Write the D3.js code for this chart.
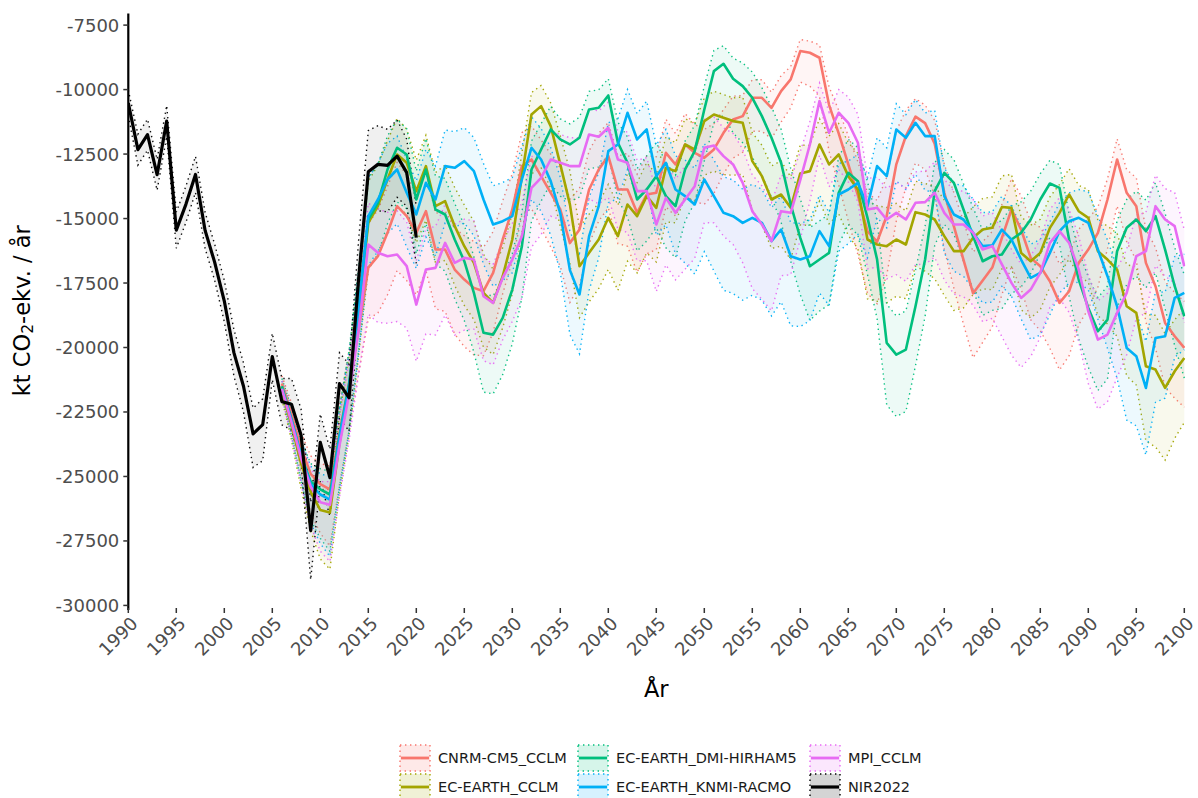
<!DOCTYPE html>
<html><head><meta charset="utf-8">
<script src="https://cdn.jsdelivr.net/npm/d3@7"></script>
<style>body{margin:0;background:#fff}svg{font-family:"DejaVu Sans",sans-serif}</style>
</head><body><svg id="c" width="1198" height="798"></svg>
<script>
// ---------- DATA ----------
const nirYears = d3.range(1990, 2021);
const modelYears = d3.range(2006, 2101);
const xTicks = d3.range(1990, 2101, 5);
const yTicks = [-30000,-27500,-25000,-22500,-20000,-17500,-15000,-12500,-10000,-7500];

const nirValues = [-10520,-12330,-11750,-13300,-11220,-15450,-14450,-13290,-15460,-16700,-18200,-20200,-21500,-23350,-22990,-20350,-22100,-22200,-23400,-27100,-23680,-25040,-21400,-21950,-17300,-13190,-12900,-12940,-12580,-13220,-15740];
const nirUp = [500,600,600,600,600,700,700,700,700,700,800,900,900,1000,1000,900,900,1000,1000,1100,1100,1100,1200,1300,1500,1600,1500,1400,1400,1300,1200];
const nirDn = [500,600,600,600,600,700,700,700,700,700,800,900,1000,1300,1400,900,900,1000,1100,1900,1500,1500,1300,1300,1400,1600,1800,1800,1600,1300,1000];

const cnrmValues = [-21400,-22600,-23900,-24900,-25300,-25500,-23300,-21400,-19300,
-16900,-16460,-15555,-14520,-14908,-15555,-14714,-16201,-16201,-16977,
-17365,-17688,-17818,-17106,-15813,-14650,-12968,-12710,-13356,-14003,
-14650,-15950,-15425,-13873,-13097,-12580,-13873,-13873,-14778,-14067,
-14002,-12451,-12903,-12128,-12451,-12645,-12322,-11675,-11158,-11029,
-10318,-10318,-10706,-10059,-9606,-8507,-8572,-8766,-10600,-11700,
-12900,-14100,-15500,-15900,-14900,-12900,-11800,-11050,-11300,-12100,
-14000,-15300,-16600,-17900,-17400,-16900,-15750,-14650,-15426,-16525,
-16848,-17430,-18270,-17818,-16719,-16202,-15555,-14262,-12710,-14003,
-14521,-16719,-17624,-19046,-19563,-20016];
const cnrmUp = [300,450,600,700,800,900,1100,1300,1500,
1700,1800,1800,1700,1600,1500,1500,1400,1500,1600,
1700,1800,1700,1600,1500,1400,1300,1300,1400,1500,
1600,1700,1600,1500,1400,1300,1300,1400,1500,1500,
1400,1300,1200,1200,1100,1100,1000,900,900,800,
700,700,600,600,500,450,450,500,700,900,
1100,1300,1500,1600,1500,1300,1000,700,700,900,
1100,1300,1500,1600,1500,1400,1300,1200,1300,1400,
1500,1500,1500,1400,1300,1200,1000,800,800,900,
1100,1300,1500,1600,1700,1800];
const cnrmDn = [300,600,1000,1500,1900,2200,2000,1800,1700,
2000,2200,2400,2500,2500,2400,2300,2300,2400,2500,
2600,2600,2500,2300,2100,2000,1900,1900,2000,2100,
2200,2300,2200,2100,2000,2000,2100,2200,2300,2300,
2200,2100,2000,2000,1900,1800,1700,1600,1500,1400,
1300,1300,1200,1200,1100,1200,1300,1500,1800,2000,
2200,2300,2400,2400,2300,2200,2000,1800,1800,2000,
2200,2400,2500,2500,2400,2300,2200,2200,2300,2400,
2500,2600,2600,2500,2400,2300,2100,1900,1800,1900,
2100,2300,2400,2500,2400,2300];

const cclmValues = [-21700,-23000,-24500,-25600,-26300,-26400,-23700,-21600,-18600,
-15167,-14520,-13486,-12516,-12839,-13938,-12968,-14520,-14326,-15296,
-16072,-16718,-17882,-18270,-17236,-15813,-13356,-10964,-10641,-11417,
-12900,-14450,-16847,-16330,-15813,-14972,-15684,-14455,-14908,-14132,
-14584,-13033,-13162,-12128,-12322,-11222,-10964,-11093,-11222,-11287,
-12774,-13356,-14261,-14067,-14584,-13250,-13162,-12128,-12903,-12516,
-13356,-13873,-15813,-16007,-16071,-15813,-16007,-14752,-14843,-15037,
-15683,-16265,-16265,-15748,-15425,-15360,-14550,-14585,-16331,-16654,
-16331,-15361,-14779,-14068,-14715,-14973,-16266,-16589,-16977,-18400,
-18658,-20727,-20856,-21567,-20921,-20404];
const cclmUp = [300,450,600,700,800,900,1100,1300,1500,
1600,1600,1500,1400,1300,1200,1200,1300,1400,1500,
1600,1600,1500,1300,1100,1000,900,850,800,900,
1100,1300,1500,1500,1400,1300,1200,1200,1300,1300,
1300,1200,1100,1000,1000,900,900,900,900,1000,
1100,1200,1300,1300,1200,1100,1000,1000,1100,1200,
1300,1400,1500,1500,1500,1400,1300,1200,1200,1300,
1400,1400,1300,1200,1200,1200,1200,1300,1400,1400,
1300,1200,1100,1000,1000,1100,1200,1300,1400,1600,
1800,2000,2100,2100,2000,1900];
const cclmDn = [300,600,1000,1500,1900,2200,2000,1800,1700,
1800,1900,2000,2000,2000,2000,2100,2200,2300,2300,
2300,2200,2100,2000,2000,2100,2200,2300,2400,2400,
2400,2300,2000,1900,1900,2000,2100,2200,2200,2200,
2100,2100,2000,2000,2000,2100,2200,2200,2100,2000,
1900,1900,1900,2000,2000,2000,2100,2200,2300,2300,
2300,2300,2300,2200,2200,2200,2100,2100,2200,2300,
2300,2300,2200,2200,2300,2400,2400,2300,2200,2200,
2200,2300,2400,2500,2500,2500,2500,2500,2600,2700,
2800,2900,3000,2800,2600,2500];

const dmiValues = [-21500,-22800,-24200,-25200,-25500,-25700,-23400,-21400,-18400,
-15037,-14391,-13098,-12257,-12516,-14262,-13098,-14650,-14843,-15813,
-16653,-17882,-19430,-19500,-18850,-17753,-16072,-13098,-12322,-11546,
-11934,-12128,-11869,-10770,-10706,-10227,-12063,-12839,-14261,-13873,
-13356,-14132,-14520,-13097,-12386,-10770,-9283,-8999,-9581,-9865,
-10318,-11029,-11869,-12839,-14455,-15750,-16849,-16590,-16331,-14004,
-13228,-13551,-14974,-16590,-19823,-20275,-20081,-18400,-16590,-13939,
-13228,-13616,-14651,-15685,-16655,-16461,-16396,-15814,-15555,-15038,
-14262,-13641,-13809,-15814,-17365,-18464,-19369,-18917,-16266,-15361,
-15038,-15490,-14909,-16202,-17624,-18788];
const dmiUp = [300,450,600,700,800,900,1100,1300,1500,
1600,1500,1300,1100,1000,1100,1200,1300,1400,1400,
1400,1400,1500,1500,1500,1400,1300,1100,1000,900,
800,800,800,700,700,650,800,1000,1200,1300,
1300,1300,1200,1100,1000,900,800,700,800,900,
1000,1100,1200,1300,1400,1500,1500,1500,1500,1400,
1300,1300,1400,1500,1500,1500,1500,1400,1300,1100,
900,900,1000,1100,1200,1300,1300,1300,1200,1100,
1000,900,900,1000,1100,1200,1300,1300,1200,1100,
1100,1200,1300,1400,1500,1600];
const dmiDn = [300,600,1000,1500,1900,2200,2000,1800,1700,
1900,2000,2100,2100,2100,2100,2100,2100,2200,2300,
2300,2300,2300,2300,2200,2100,2000,2000,2000,2100,
2200,2200,2300,2300,2300,2300,2200,2100,2000,2000,
2000,2000,2000,2000,2000,2000,2000,2000,2100,2200,
2300,2300,2300,2300,2200,2200,2100,2000,2000,2000,
2000,2100,2200,2300,2400,2400,2400,2300,2200,2100,
2000,2000,2000,2100,2100,2100,2100,2100,2100,2100,
2100,2100,2200,2200,2300,2300,2300,2300,2200,2200,
2200,2200,2200,2300,2300,2400];

const knmiValues = [-21600,-22800,-24200,-25300,-25700,-25900,-23500,-21500,-18500,
-14908,-14262,-13486,-13098,-14003,-14843,-13615,-14262,-12968,-13033,
-12775,-13163,-14262,-15231,-15102,-14908,-13486,-12257,-12710,-13550,
-14800,-17000,-17946,-15684,-14520,-12386,-12128,-10899,-11934,-11546,
-13356,-12839,-13873,-14132,-14455,-13485,-14132,-14778,-14908,-15166,
-14972,-15166,-15877,-15425,-16459,-16588,-16459,-15489,-16071,-14067,
-13873,-13615,-14520,-12968,-13356,-11546,-11869,-11287,-11804,-11804,
-14132,-14843,-15037,-15554,-16071,-16040,-15426,-15814,-16589,-17300,
-17107,-16331,-15490,-15102,-14973,-15167,-16202,-17236,-18400,-20016,
-20339,-21567,-19628,-19563,-18076,-17882];
const knmiUp = [300,450,600,700,800,900,1100,1300,1500,
1500,1400,1400,1300,1300,1300,1300,1300,1400,1400,
1300,1300,1400,1500,1500,1500,1300,1200,1200,1300,
1400,1500,1600,1500,1300,1100,1000,900,1000,1100,
1200,1300,1300,1400,1400,1400,1400,1400,1400,1300,
1300,1300,1300,1300,1300,1400,1400,1400,1300,1200,
1100,1100,1100,1100,1100,1000,900,900,900,1000,
1100,1200,1300,1300,1300,1300,1300,1300,1300,1300,
1300,1200,1100,1100,1100,1200,1300,1400,1500,1600,
1700,1800,1800,1700,1600,1500];
const knmiDn = [300,600,1000,1500,1900,2200,2000,1800,1700,
1900,2000,2100,2100,2100,2100,2100,2200,2200,2300,
2400,2500,2500,2400,2300,2200,2100,2000,2000,2100,
2300,2500,2300,2100,2000,2000,2100,2200,2300,2300,
2300,2400,2500,2600,2700,2800,2900,3000,3000,3000,
3000,3000,2900,2800,2700,2600,2500,2400,2300,2200,
2100,2000,2000,2000,2000,2000,2000,2000,2100,2200,
2200,2200,2200,2200,2200,2200,2200,2200,2300,2400,
2400,2400,2400,2400,2500,2600,2700,2800,2800,2800,
2700,2600,2500,2400,2300,2200];

const mpiValues = [-21600,-22900,-24300,-25400,-26000,-26100,-23800,-21800,-19300,
-16007,-16330,-16460,-16395,-16847,-18335,-16977,-16912,-15943,-16718,
-16524,-16589,-18011,-18270,-17300,-16589,-15684,-13809,-13421,-12710,
-12839,-12968,-12968,-11740,-11830,-11481,-12710,-12839,-13938,-13938,
-15231,-14197,-14778,-14261,-13744,-12257,-12166,-12580,-12903,-13615,
-14714,-15231,-15877,-14714,-14778,-13500,-12128,-10447,-11675,-10899,
-11287,-12063,-14649,-14584,-15037,-14778,-15037,-14390,-14365,-14002,
-14778,-15231,-15231,-15554,-16201,-16071,-16780,-17495,-18077,-17753,
-17107,-15943,-15490,-15943,-16977,-18594,-19693,-19499,-18658,-17883,
-16460,-16266,-14521,-15038,-15296,-16848];
const mpiUp = [300,450,600,700,800,900,1100,1300,1500,
1600,1700,1700,1700,1700,1700,1600,1600,1500,1500,
1500,1500,1500,1500,1400,1400,1300,1200,1100,1100,
1100,1100,1100,1000,1000,1000,1100,1200,1200,1300,
1300,1300,1300,1300,1200,1100,1100,1100,1200,1300,
1400,1500,1500,1400,1300,1100,900,700,800,900,
1000,1100,1200,1200,1200,1200,1200,1200,1200,1200,
1300,1300,1300,1300,1300,1300,1300,1300,1300,1300,
1300,1300,1300,1300,1300,1400,1500,1600,1700,1700,
1600,1500,1200,1200,1300,1400];
const mpiDn = [300,600,1000,1500,1900,2200,2000,1800,1700,
2700,2700,2600,2600,2400,2200,2500,2600,2800,2800,
2800,2700,2500,2400,2400,2400,2400,2300,2200,2200,
2200,2300,2400,2500,2600,2700,2700,2700,2700,2700,
2600,2600,2600,2700,2800,2900,3000,3100,3100,3100,
3000,2900,2700,2500,2400,2300,2200,2100,2100,2200,
2300,2300,2300,2300,2300,2400,2400,2400,2400,2500,
2600,2700,2800,2800,2800,2800,2800,2800,2700,2600,
2500,2500,2600,2700,2800,2800,2700,2600,2500,2400,
2400,2400,2300,2200,2200,2200];

const seriesNames = ["CNRM-CM5_CCLM","EC-EARTH_CCLM","EC-EARTH_DMI-HIRHAM5","EC-EARTH_KNMI-RACMO","MPI_CCLM","NIR2022"];
const seriesColors = ["#F8766D","#A3A500","#00BF7D","#00B0F6","#E76BF3","#000000"];

// ---------- BUILD ----------
const series = [
  {years:modelYears, v:cnrmValues, up:cnrmUp, dn:cnrmDn},
  {years:modelYears, v:cclmValues, up:cclmUp, dn:cclmDn},
  {years:modelYears, v:dmiValues, up:dmiUp, dn:dmiDn},
  {years:modelYears, v:knmiValues, up:knmiUp, dn:knmiDn},
  {years:modelYears, v:mpiValues, up:mpiUp, dn:mpiDn},
  {years:nirYears, v:nirValues, up:nirUp, dn:nirDn}
].map((s,i)=>({name:seriesNames[i], color:seriesColors[i],
  pts:s.years.map((yr,j)=>({yr, v:s.v[j], hi:s.v[j]+s.up[j], lo:s.v[j]-s.dn[j]}))}));

const L = 128.3, R = 1184.3, T = 13.5, B = 608;
const x = d3.scaleLinear().domain([1990,2100]).range([L,R]);
const y = d3.scaleLinear().domain([-30100,-7050]).range([B,T]);

const svg = d3.select("#c");
svg.append("defs").append("clipPath").attr("id","clip")
  .append("rect").attr("x",L).attr("y",T).attr("width",R-L+1).attr("height",B-T);

const g = svg.append("g").attr("clip-path","url(#clip)");

const area = d3.area().x(d=>x(d.yr)).y0(d=>y(d.lo)).y1(d=>y(d.hi));
const hiLine = d3.line().x(d=>x(d.yr)).y(d=>y(d.hi));
const loLine = d3.line().x(d=>x(d.yr)).y(d=>y(d.lo));
const mid = d3.line().x(d=>x(d.yr)).y(d=>y(d.v));

series.forEach(s=>{
  const isNir = s.name==="NIR2022";
  g.append("path").attr("d",area(s.pts)).attr("fill",s.color).attr("fill-opacity",isNir?0.06:0.07);
  [hiLine,loLine].forEach(fn=>{
    g.append("path").attr("d",fn(s.pts)).attr("fill","none").attr("stroke",s.color)
      .attr("stroke-width",1.4).attr("stroke-dasharray","1.4 3.6").attr("stroke-opacity",0.95);
  });
});
series.forEach(s=>{
  const isNir = s.name==="NIR2022";
  g.append("path").attr("d",mid(s.pts)).attr("fill","none").attr("stroke",s.color)
    .attr("stroke-width",isNir?3.2:2.6).attr("stroke-linejoin","round");
});

// ---------- AXES ----------
const ax = svg.append("g");
ax.append("line").attr("x1",L).attr("x2",L).attr("y1",T).attr("y2",B+2)
  .attr("stroke","#000").attr("stroke-width",2.2);
yTicks.forEach(t=>{
  ax.append("line").attr("x1",L-5).attr("x2",L).attr("y1",y(t)).attr("y2",y(t))
    .attr("stroke","#333").attr("stroke-width",1.5);
  ax.append("text").attr("x",L-9).attr("y",y(t)).attr("text-anchor","end")
    .attr("dominant-baseline","central").attr("font-size","18px").attr("fill","#4d4d4d").text(String(t));
});
xTicks.forEach(t=>{
  ax.append("line").attr("x1",x(t)).attr("x2",x(t)).attr("y1",B).attr("y2",B+5)
    .attr("stroke","#333").attr("stroke-width",1.5);
  ax.append("text").attr("transform",`translate(${x(t)+1},${B+7}) rotate(-45)`)
    .attr("text-anchor","end").attr("dy","0.75em").attr("font-size","18px").attr("fill","#4d4d4d").text(String(t));
});
svg.append("text").attr("x",(L+R)/2).attr("y",689).attr("text-anchor","middle")
  .attr("dominant-baseline","central").attr("font-size","22.5px").attr("fill","#000").text("År");
const yt = svg.append("text").attr("transform",`translate(22,${(T+B)/2}) rotate(-90)`)
  .attr("text-anchor","middle").attr("dominant-baseline","central").attr("font-size","22.5px").attr("fill","#000");
yt.append("tspan").text("kt CO");
yt.append("tspan").attr("font-size","15.5px").attr("dy","6").text("2");
yt.append("tspan").attr("dy","-6").text("-ekv. / år");

// ---------- LEGEND ----------
const colX = [400, 578, 810], rowY = [745, 774], kw = 30, kh = 26;
series.forEach((s,i)=>{
  const cx = colX[Math.floor(i/2)], cy = rowY[i%2];
  const isNir = s.name==="NIR2022";
  const lg = svg.append("g");
  lg.append("rect").attr("x",cx).attr("y",cy).attr("width",kw).attr("height",kh)
    .attr("fill",s.color).attr("fill-opacity",isNir?0.17:0.16)
    .attr("stroke",s.color).attr("stroke-width",1.4).attr("stroke-dasharray","1.4 3.6");
  lg.append("line").attr("x1",cx+1).attr("x2",cx+kw-1).attr("y1",cy+kh/2).attr("y2",cy+kh/2)
    .attr("stroke",s.color).attr("stroke-width",isNir?3.2:2.8);
  lg.append("text").attr("x",cx+38).attr("y",cy+kh/2).attr("dominant-baseline","central")
    .attr("font-size","14.5px").attr("fill","#1a1a1a").text(s.name);
});
</script></body></html>
